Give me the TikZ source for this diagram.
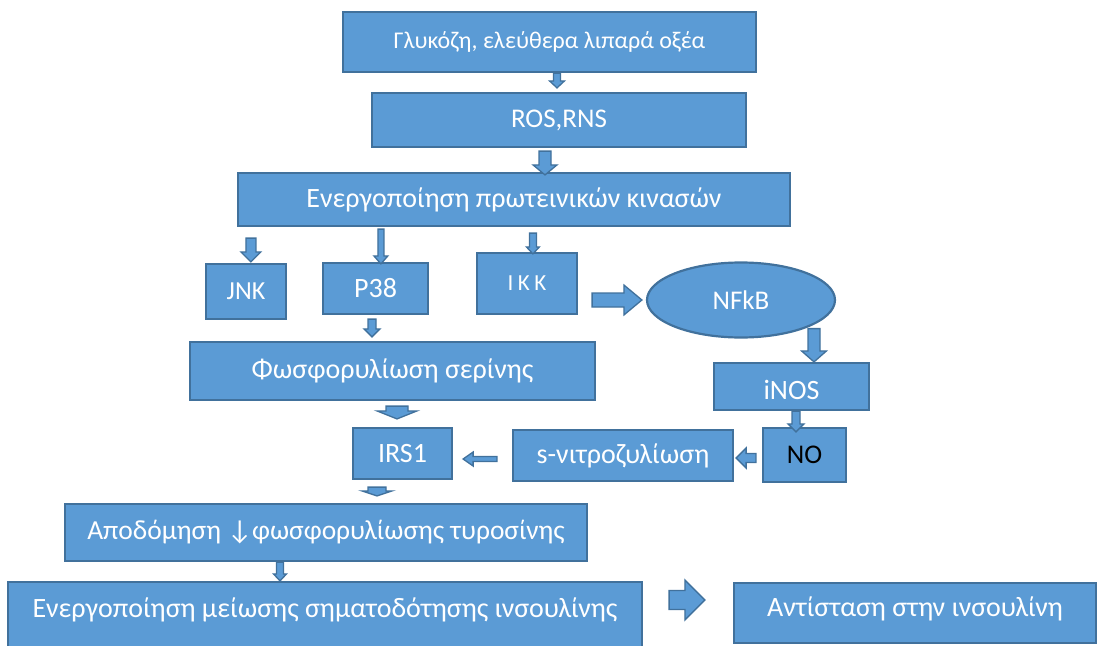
\documentclass[tikz,border=0pt]{standalone}
\usepackage{fontspec}
\setmainfont{Carlito}
\usetikzlibrary{shapes.geometric,calc}

\definecolor{boxfill}{HTML}{5B9BD5}
\definecolor{boxline}{HTML}{41719C}

\tikzset{
  box/.style={draw=boxline, fill=boxfill, line width=2.2pt, text=white,
    inner sep=0pt, font=\fontsize{28}{32}\selectfont},
  oval/.style={box, ellipse},
  blockarrow/.style={draw=boxline, fill=boxfill, line width=1.3pt, line join=miter}
}

% downward block arrow: start point, tip point, shaft half width, head half width, head length
\newcommand{\vblock}[5]{%
  \draw[blockarrow] let \p1=#1, \p2=#2 in
    (\x1-#3pt,\y1) -- (\x1+#3pt,\y1) -- (\x1+#3pt,\y2+#5pt) -- (\x1+#4pt,\y2+#5pt)
    -- (\x1,\y2) -- (\x1-#4pt,\y2+#5pt) -- (\x1-#3pt,\y2+#5pt) -- cycle;}
% rightward block arrow
\newcommand{\rblock}[5]{%
  \draw[blockarrow] let \p1=#1, \p2=#2 in
    (\x1,\y1-#3pt) -- (\x2-#5pt,\y1-#3pt) -- (\x2-#5pt,\y1-#4pt) -- (\x2,\y1)
    -- (\x2-#5pt,\y1+#4pt) -- (\x2-#5pt,\y1+#3pt) -- (\x1,\y1+#3pt) -- cycle;}
% leftward block arrow
\newcommand{\lblock}[5]{%
  \draw[blockarrow] let \p1=#1, \p2=#2 in
    (\x1,\y1-#3pt) -- (\x2+#5pt,\y1-#3pt) -- (\x2+#5pt,\y1-#4pt) -- (\x2,\y1)
    -- (\x2+#5pt,\y1+#4pt) -- (\x2+#5pt,\y1+#3pt) -- (\x1,\y1+#3pt) -- cycle;}

\begin{document}
\begin{tikzpicture}[x=1pt,y=-1pt]
\useasboundingbox (0,0) rectangle (1097,645);
\clip (0,0) rectangle (1097,645);

% boxes
\node[box, minimum width=413, minimum height=60, font=\fontsize{24}{28}\selectfont] (glu) at (549.5,42) {Γλυκόζη, ελεύθερα λιπαρά οξέα};
\node[box, minimum width=374, minimum height=54, font=\fontsize{27}{31}\selectfont] (ros) at (559,120) {ROS,RNS};
\node[box, minimum width=552, minimum height=53] (kin) at (514,199.5) {Ενεργοποίηση πρωτεινικών κινασών};
\node[box, minimum width=80, minimum height=55, font=\fontsize{26}{30}\selectfont] (jnk) at (246,291.5) {JNK};
\node[box, minimum width=105, minimum height=51] (p38) at (375.5,288.5) {P38};
\node[box, minimum width=100, minimum height=61, font=\fontsize{23}{27}\selectfont] (ikk) at (527,283.5) {\addfontfeature{LetterSpace=20}IKK};
\node[oval, minimum width=188, minimum height=75, font=\fontsize{27}{31}\selectfont] (nfkb) at (741,300) {NFkB};
\node[box, minimum width=405, minimum height=58] (phos) at (392.5,371) {Φωσφορυλίωση σερίνης};
\node[box, minimum width=155, minimum height=47, text height=27pt, text depth=2pt] (inos) at (791.5,386.5) {iNOS};
\node[box, minimum width=99, minimum height=51] (irs) at (402.5,453.5) {IRS1};
\node[box, minimum width=220, minimum height=51] (sn) at (623,455.5) {s-νιτροζυλίωση};
\node[box, minimum width=83, minimum height=54, text=black, font=\fontsize{27}{31}\selectfont] (no) at (804.5,455) {NO};
\node[box, minimum width=522, minimum height=57, font=\fontsize{27.5}{32}\selectfont] (apo) at (326,532.5) {Αποδόμηση ↓φωσφορυλίωσης τυροσίνης};
\node[box, minimum width=634, minimum height=76, text height=20pt, text depth=25pt] (en) at (325,620) {Ενεργοποίηση μείωσης σηματοδότησης ινσουλίνης};
\node[box, minimum width=362, minimum height=60, text height=20pt, text depth=14pt] (ant) at (915,613) {Αντίσταση στην ινσουλίνη};

% connectors
\vblock{($(glu.south)+(7.5,0)$)}{($(ros.north)+(0,-4)$)}{3.5}{7.5}{7}
\vblock{($(ros.south)+(-14,3)$)}{($(kin.north)+(0,3)$)}{6}{12}{10}
\vblock{($(kin.south west)+(14,11)$)}{($(jnk.north)+(0,-1)$)}{5}{10}{10}
\vblock{($(kin.south west)+(144,2)$)}{($(p38.north)+(0,2)$)}{3}{7}{8}
\vblock{($(kin.south west)+(296,6)$)}{($(ikk.north)+(0,2)$)}{3.5}{6.5}{7}
\vblock{($(p38.south)+(-3.5,4)$)}{($(phos.north)+(0,-4)$)}{4}{8}{8}
\rblock{($(ikk.east)+(14,16.5)$)}{($(nfkb.west)+(-4,0)$)}{7}{15}{18}
\vblock{($(nfkb.south)+(73,-10)$)}{(inos.north)}{6}{12.5}{11}
\vblock{($(phos.south)+(4.5,5)$)}{($(irs.north)+(0,-8)$)}{11}{20}{8}
\vblock{($(inos.south)+(4.5,0)$)}{($(no.north)+(0,5)$)}{4}{8}{8}
\lblock{($(no.west)+(-6,3)$)}{($(sn.east)+(2,0)$)}{4.5}{10}{10}
\lblock{($(sn.west)+(-15,3.5)$)}{($(irs.east)+(10,0)$)}{2.5}{7}{10}
\vblock{($(irs.south)+(-25.5,7)$)}{($(apo.north)+(0,-7)$)}{9}{15}{5}
\vblock{($(apo.south)+(-46,0)$)}{(en.north)}{3.5}{6.5}{7}
\rblock{($(en.east)+(26,-20)$)}{($(ant.west)+(-28,0)$)}{9.5}{20}{20}
\end{tikzpicture}
\end{document}
